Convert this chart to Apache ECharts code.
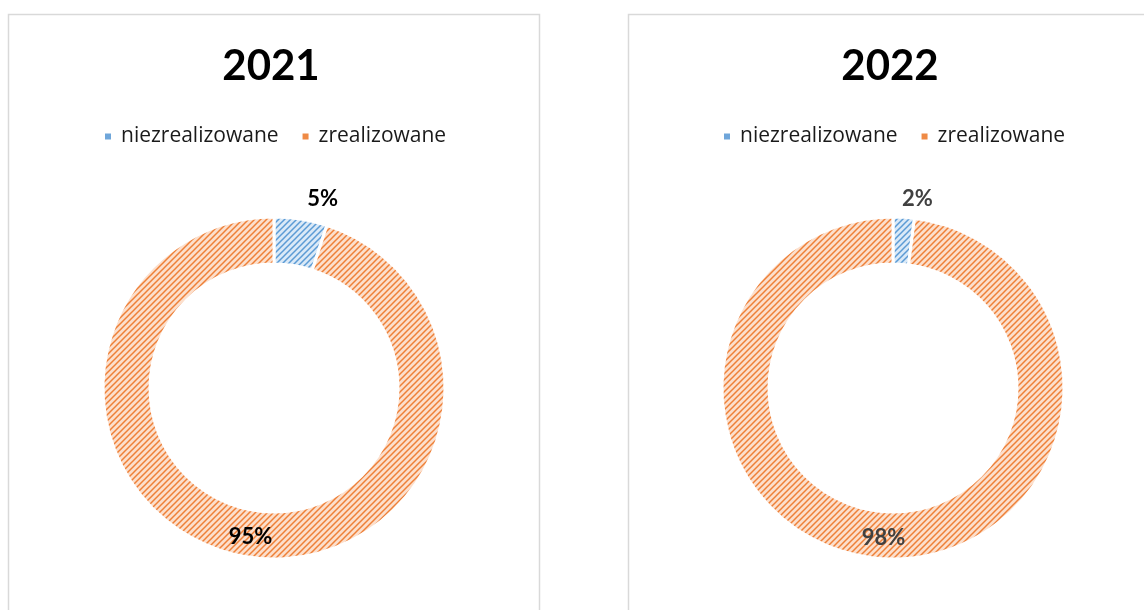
<!DOCTYPE html>
<html>
<head>
<meta charset="utf-8">
<script src="https://cdn.jsdelivr.net/npm/echarts@6/dist/echarts.min.js"></script>
<style>
  html, body { margin: 0; padding: 0; background: #fff; }
  #chart { width: 1144px; height: 610px; }
</style>
</head>
<body>
<div id="chart"></div>
<script>
// dane z wykresu
const years = ['2021', '2022']
const categories = ['niezrealizowane', 'zrealizowane']
const values2021 = [5, 95]
const values2022 = [2, 98]
const legendColors = ['#6fa6da', '#ef8a45']

// kreskowany wzór (ukośne paski)
function hatch (bg, line) {
  const c = document.createElement('canvas')
  c.width = 6
  c.height = 6
  const ctx = c.getContext('2d')
  ctx.fillStyle = bg
  ctx.fillRect(0, 0, 6, 6)
  ctx.strokeStyle = line
  ctx.lineWidth = 1.5
  ctx.beginPath()
  ctx.moveTo(-1, 7); ctx.lineTo(7, -1)
  ctx.moveTo(-1, 1); ctx.lineTo(1, -1)
  ctx.moveTo(5, 7); ctx.lineTo(7, 5)
  ctx.stroke()
  return { image: c, repeat: 'repeat' }
}
const blue = hatch('#dae9f7', '#5b9bd5')
const orange = hatch('#fcdfcc', '#ee8038')

const font = '"Open Sans", Lato, sans-serif'

function makeSeries (year, values, cx, labelColor, smallOffset) {
  return {
    name: year,
    type: 'pie',
    center: [cx, 388],
    radius: [124, 171],
    startAngle: 90,
    avoidLabelOverlap: false,
    itemStyle: { borderColor: '#fff', borderWidth: 3 },
    label: {
      show: true,
      position: 'inside',
      formatter: '{d}%',
      color: labelColor,
      fontFamily: 'Lato, sans-serif',
      fontWeight: 'bold',
      fontSize: 22
    },
    labelLine: { show: false },
    emphasis: { disabled: true },
    data: categories.map((name, i) => ({
      name: name,
      value: values[i],
      itemStyle: { color: i === 0 ? blue : orange },
      label: i === 0 ? { offset: smallOffset } : {}
    }))
  }
}

const legendBase = {
  data: categories.map((name, i) => ({ name: name, itemStyle: { color: legendColors[i] } })),
  top: 121,
  itemWidth: 8,
  itemHeight: 8,
  itemGap: 22,
  icon: 'rect',
  textStyle: { fontFamily: font, fontSize: 21, color: '#1a1a1a', padding: [0, 0, 0, 4] }
}

const option = {
  animation: false,
  backgroundColor: '#fff',
  graphic: [
    { type: 'rect', shape: { x: 8.5, y: 14.5, width: 531, height: 620 }, style: { fill: 'none', stroke: '#d9d9d9', lineWidth: 1.5 } },
    { type: 'rect', shape: { x: 628.5, y: 14.5, width: 540, height: 620 }, style: { fill: 'none', stroke: '#d9d9d9', lineWidth: 1.5 } }
  ],
  title: [
    { text: years[0], left: 266, top: 40, textAlign: 'center', textStyle: { fontFamily: 'Lato, sans-serif', fontWeight: 'bold', fontSize: 42, color: '#000' } },
    { text: years[1], left: 885, top: 40, textAlign: 'center', textStyle: { fontFamily: 'Lato, sans-serif', fontWeight: 'bold', fontSize: 42, color: '#000' } }
  ],
  legend: [
    Object.assign({}, legendBase, { left: 98 }),
    Object.assign({}, legendBase, { left: 717 })
  ],
  series: [
    makeSeries(years[0], values2021, 274, '#000', [25, -40]),
    makeSeries(years[1], values2022, 893, '#404040', [15, -39])
  ]
}

const myChart = echarts.init(document.getElementById('chart'))
myChart.setOption(option, true)
window.addEventListener('resize', function () {
  myChart.resize()
})
</script>
</body>
</html>
